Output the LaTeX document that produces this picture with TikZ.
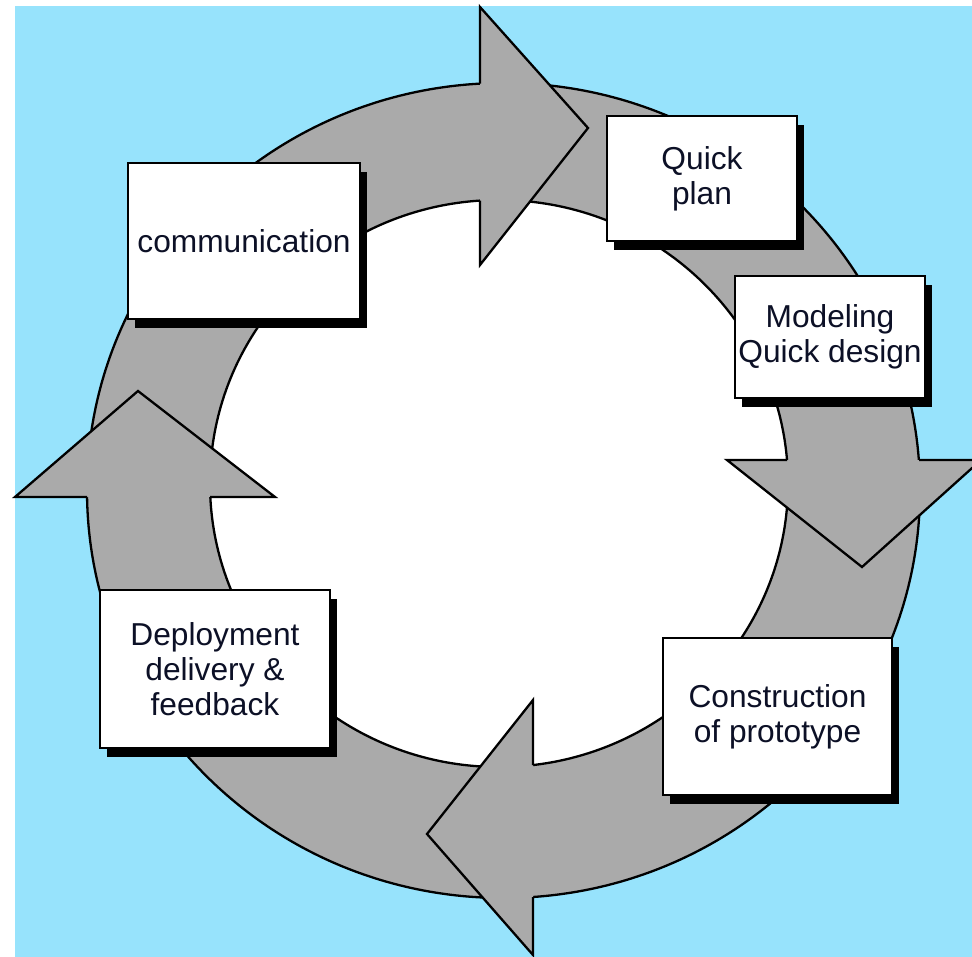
\documentclass[tikz,border=0pt]{standalone}
\usepackage{fontspec}
\setmainfont{Liberation Sans}
\usetikzlibrary{shadows}
\definecolor{bgblue}{RGB}{151,227,252}
\definecolor{ringgray}{RGB}{170,170,170}
\definecolor{ink}{RGB}{12,16,38}
\tikzset{
  edge/.style={draw=black, line width=2.3pt, line join=miter},
  box/.style={draw=black, fill=white, line width=2pt, inner sep=0pt, align=center,
    text=ink, font=\fontsize{31.7}{35}\selectfont,
    general shadow={fill=black, shadow xshift=7pt, shadow yshift=-9pt}},
}
\begin{document}
\begin{tikzpicture}[x=1pt,y=-1pt]
\useasboundingbox (0,0) rectangle (972,957);
\clip (0,0) rectangle (972,957);
% background
\fill[bgblue] (15,6) rectangle (972,957);
% ring
\fill[ringgray] (503.5,490.5) ellipse [x radius=416.5pt, y radius=407.5pt];
\draw[edge] (503.5,490.5) ellipse [x radius=416.5pt, y radius=407.5pt];
\fill[white] (499,483.5) ellipse [x radius=289pt, y radius=283.5pt];
\draw[edge] (499,483.5) ellipse [x radius=289pt, y radius=283.5pt];
% top arrowhead (points right)
\fill[ringgray] (480,7) -- (588,128) -- (480,265) -- cycle;
\draw[edge] (480,83.6) -- (480,7) -- (588,128) -- (480,265) -- (480,200.6);
% right arrowhead (points down)
\fill[ringgray] (727,460) -- (862,567) -- (981,460) -- cycle;
\draw[edge] (787,460) -- (727,460) -- (862,567) -- (981,460) -- (919,460);
% bottom arrowhead (points left)
\fill[ringgray] (533,700) -- (427,834) -- (533,955) -- cycle;
\draw[edge] (533,765) -- (533,700) -- (427,834) -- (533,955) -- (533,897);
% left arrowhead (points up)
\fill[ringgray] (15,497) -- (138,391) -- (275,497) -- cycle;
\draw[edge] (87,497) -- (15,497) -- (138,391) -- (275,497) -- (210,497);
% boxes
\node[box, minimum width=232pt, minimum height=156pt] (comm) at (244,241) {communication};
\node[box, minimum width=190pt, minimum height=125pt] (plan) at (702,178.5) {Quick\\plan};
\node[box, minimum width=190pt, minimum height=122pt] (model) at (830,337) {Modeling\\Quick design};
\node[box, minimum width=229pt, minimum height=157pt] (constr) at (777.5,716.5) {Construction\\of prototype};
\node[box, minimum width=230pt, minimum height=158pt] (deploy) at (215,669) {Deployment\\delivery \&\\feedback};
\end{tikzpicture}
\end{document}
